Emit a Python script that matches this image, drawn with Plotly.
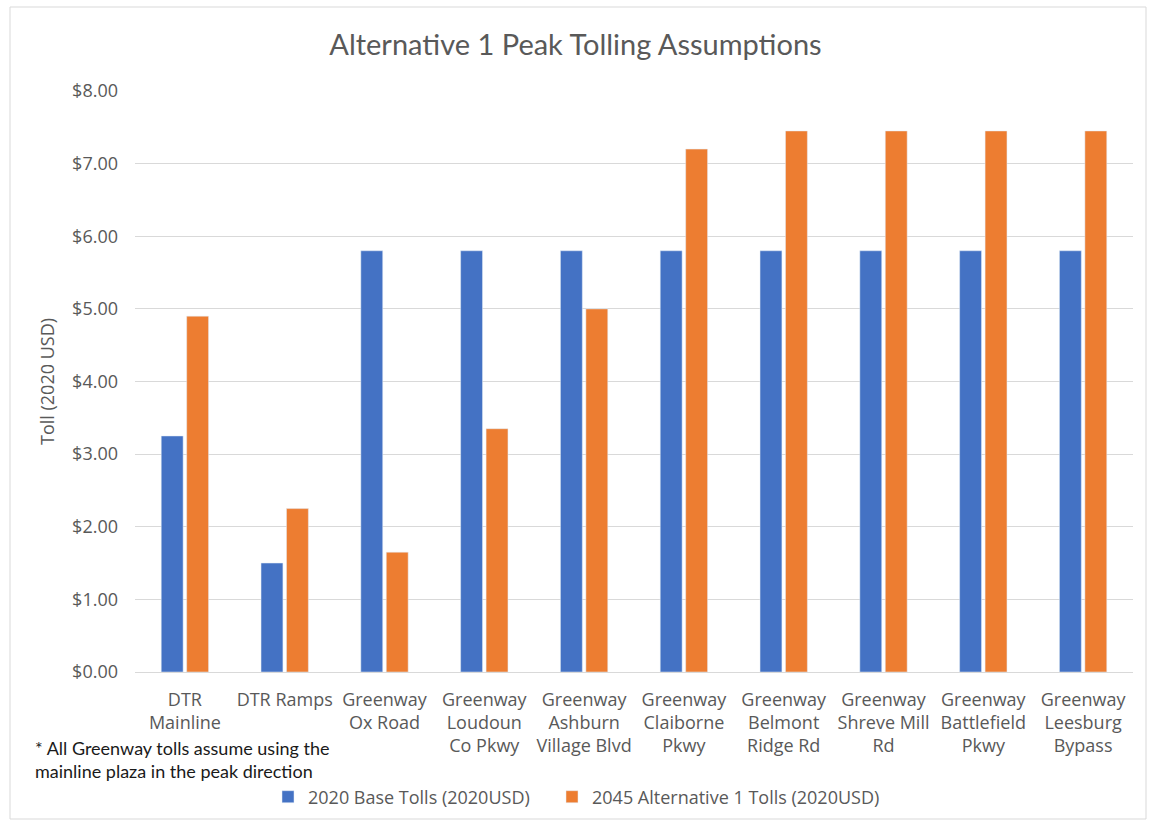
import plotly.graph_objects as go

categories = [
    "DTR<br>Mainline", "DTR Ramps", "Greenway<br>Ox Road", "Greenway<br>Loudoun<br>Co Pkwy",
    "Greenway<br>Ashburn<br>Village Blvd", "Greenway<br>Claiborne<br>Pkwy", "Greenway<br>Belmont<br>Ridge Rd",
    "Greenway<br>Shreve Mill<br>Rd", "Greenway<br>Battlefield<br>Pkwy", "Greenway<br>Leesburg<br>Bypass",
]
base_2020 = [3.25, 1.50, 5.80, 5.80, 5.80, 5.80, 5.80, 5.80, 5.80, 5.80]
alt1_2045 = [4.90, 2.25, 1.65, 3.35, 5.00, 7.20, 7.45, 7.45, 7.45, 7.45]
series_names = ["2020 Base Tolls (2020USD)", "2045 Alternative 1 Tolls (2020USD)"]
y_ticks = [0, 1, 2, 3, 4, 5, 6, 7, 8]

W, H = 1151, 822
ML, MR, MT, MB = 135, 18, 91, 150
pw, ph = W - ML - MR, H - MT - MB

def px(x):
    return (x - ML) / pw

def py(y):
    return (H - MB - y) / ph

fig = go.Figure()
fig.add_trace(go.Bar(x=categories, y=base_2020, name=series_names[0], marker_color="#4472C4",
                     legend="legend"))
fig.add_trace(go.Bar(x=categories, y=alt1_2045, name=series_names[1], marker_color="#ED7D31",
                     legend="legend2"))

legend_common = dict(orientation="h", y=py(797), yanchor="middle", xanchor="left",
                     font=dict(family="Open Sans", size=18, color="#595959"), itemwidth=30,
                     bgcolor="rgba(0,0,0,0)")

fig.update_layout(
    width=W, height=H,
    margin=dict(l=ML, r=MR, t=MT, b=MB, autoexpand=False),
    paper_bgcolor="white", plot_bgcolor="white",
    barmode="group", bargap=0.49, bargroupgap=0.14,
    font=dict(family="Open Sans", size=17, color="#595959"),
    title=dict(text="Alternative 1 Peak Tolling Assumptions", x=0.5, xanchor="center",
               y=1 - 45 / H, yanchor="middle",
               font=dict(family="Lato", size=29, color="#595959")),
    showlegend=True,
    legend=dict(x=px(268), **legend_common),
    legend2=dict(x=px(552), **legend_common),
    xaxis=dict(showgrid=False, showline=True, linecolor="#D9D9D9", linewidth=1,
               ticks="", tickfont=dict(size=18, color="#595959"), tickangle=0,
               ticklabelstandoff=11),
    yaxis=dict(range=[0, 8], tickvals=y_ticks, tickformat="$.2f",
               showgrid=True, gridcolor="#D9D9D9", gridwidth=1, zeroline=False,
               showline=False, ticks="", ticklen=0, ticklabelstandoff=16,
               tickfont=dict(size=18, color="#595959"),
               title=dict(text="Toll (2020 USD)", standoff=12,
                          font=dict(family="Open Sans", size=18, color="#595959"))),
    shapes=[dict(type="rect", xref="paper", yref="paper",
                 x0=px(10), x1=px(1146), y0=py(819), y1=py(7),
                 line=dict(color="#D9D9D9", width=1), fillcolor="rgba(0,0,0,0)", layer="below")],
    annotations=[dict(text="* All Greenway tolls assume using the<br>mainline plaza in the peak direction",
                      xref="paper", yref="paper", x=px(33), y=py(735), xanchor="left", yanchor="top",
                      align="left", showarrow=False,
                      font=dict(family="Lato", size=18, color="#1a1a1a"))],
)

fig.write_html("out.html")
